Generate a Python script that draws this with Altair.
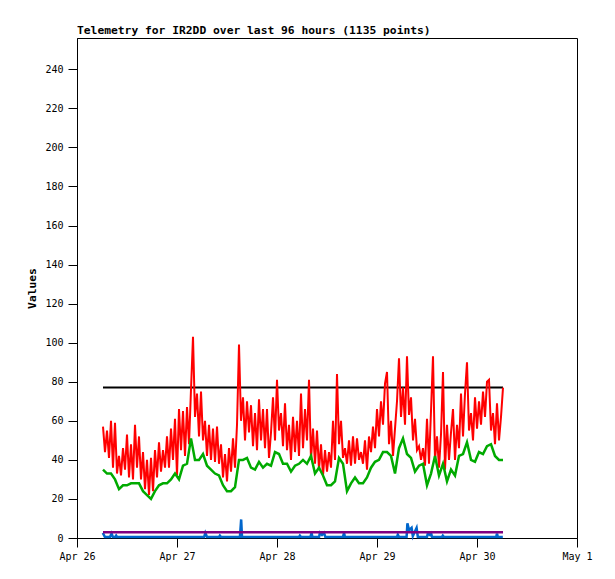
import altair as alt
import pandas as pd

TITLE = "Telemetry for IR2DD over last 96 hours (1135 points)"
x_tick_hours = [0, 24, 48, 72, 96, 120]
x_labels = ["Apr 26", "Apr 27", "Apr 28", "Apr 29", "Apr 30", "May 1"]
y_ticks = [0, 20, 40, 60, 80, 100, 120, 140, 160, 180, 200, 220, 240]

START_H = 6.24       # hours after Apr 26 00:00 of the first sample
SPAN_H = 96.0
RED_STEP_H = 0.48
GREEN_STEP_H = 0.96

red_vals = [
    57, 44, 55, 41, 60, 36, 59, 33, 42, 32, 46, 35, 53, 31, 48, 30, 58, 36, 52, 30,
    44, 25, 40, 22, 41, 24, 45, 31, 49, 34, 45, 36, 52, 36, 56, 40, 61, 32, 66, 45,
    65, 42, 67, 48, 76, 103, 62, 74, 52, 75, 50, 60, 42, 58, 40, 56, 39, 57, 38, 48,
    31, 43, 29, 46, 34, 51, 36, 58, 99, 60, 72, 50, 70, 54, 68, 47, 64, 45, 71, 50, 66,
    46, 66, 41, 54, 72, 50, 81, 55, 64, 47, 69, 45, 58, 40, 62, 44, 60, 42, 74, 46,
    66, 50, 81, 40, 56, 38, 55, 35, 48, 32, 45, 34, 44, 36, 60, 40, 84, 48, 60, 41, 46,
    38, 50, 37, 52, 38, 51, 40, 44, 38, 50, 35, 52, 44, 57, 46, 66, 52, 70, 58, 79,
    85, 48, 60, 42, 56, 70, 92, 62, 77, 58, 93, 63, 72, 50, 61, 45, 47, 40, 46, 37, 61,
    38, 65, 93, 40, 52, 36, 53, 85, 35, 58, 40, 54, 66, 40, 58, 46, 74, 52, 74, 90,
    55, 64, 50, 72, 56, 70, 58, 75, 62, 80, 81, 55, 64, 48, 69, 50, 62, 77,
]

green_vals = [
    35, 33, 33, 30, 25, 27, 27, 28, 28, 28,
    24, 22, 20, 24, 27, 28, 28, 30, 33, 30,
    37, 38, 51, 40, 40, 43, 37, 35, 33, 32,
    27, 24, 24, 26, 40, 40, 41, 36, 35, 39,
    36, 38, 37, 44, 43, 38, 38, 34, 37, 38,
    40, 38, 42, 33, 36, 32, 27, 27, 29, 41,
    38, 24, 28, 31, 28, 28, 31, 36, 39, 40,
    44, 44, 42, 33, 46, 51, 43, 41, 34, 37,
    38, 27, 33, 42, 32, 38, 29, 35, 32, 42,
    43, 49, 40, 39, 44, 43, 47, 48, 42, 40,
    40,
]

blue_hours = [
    6.2, 6.7, 7.9, 8.3, 8.6, 9.2, 9.4, 9.6,
    30.5, 30.8, 31.2, 34.1, 34.3, 34.6, 39.1, 39.4, 39.6,
    53.3, 53.5, 53.8, 56.0, 56.3, 56.5,
    58.1, 58.3, 58.8, 59.3, 59.6, 63.8, 64.1, 64.3,
    76.8, 77.0, 77.3, 79.1, 79.3, 79.7, 80.3, 80.6, 81.5, 81.8,
    84.0, 84.2, 84.7, 85.0, 85.2, 87.6, 87.8, 88.1,
    100.6, 100.8, 101.0, 102.2,
]
blue_vals = [
    2.6, 0.5, 0.5, 2.3, 0.5, 0.5, 1.2, 0.5,
    0.5, 2.6, 0.5, 0.5, 1.2, 0.5, 0.5, 9.5, 0.5,
    0.5, 1.2, 0.5, 0.5, 2.6, 0.5,
    0.5, 2.6, 1.5, 2.6, 0.5, 0.5, 2.6, 0.5,
    0.5, 1.7, 0.5, 0.5, 7.5, 4.0, 5.2, 1.0, 5.2, 0.5,
    0.5, 2.3, 1.5, 2.3, 0.5, 0.5, 1.2, 0.5,
    0.5, 2.3, 0.5, 0.5,
]

black_level = 77
purple_level = 3

END_H = START_H + SPAN_H

red_df = pd.DataFrame({"h": [START_H + i * RED_STEP_H for i in range(len(red_vals))], "v": red_vals})
green_df = pd.DataFrame({"h": [START_H + i * GREEN_STEP_H for i in range(len(green_vals))], "v": green_vals})
blue_df = pd.DataFrame({"h": blue_hours, "v": blue_vals})
black_df = pd.DataFrame({"h": [START_H, END_H], "v": [black_level, black_level]})
purple_df = pd.DataFrame({"h": [START_H, END_H], "v": [purple_level, purple_level]})

FONT = "DejaVu Sans Mono"
label_expr = "[" + ",".join("'" + s + "'" for s in x_labels) + "][round(datum.value/24)]"

x_enc = alt.X(
    "h:Q",
    scale=alt.Scale(domain=[x_tick_hours[0], x_tick_hours[-1]], nice=False, zero=False),
    axis=alt.Axis(values=x_tick_hours, labelExpr=label_expr, title=None, grid=False,
                  tickSize=9, labelPadding=4, labelFlush=False),
)
y_enc = alt.Y(
    "v:Q",
    scale=alt.Scale(domain=[0, 256], nice=False),
    axis=alt.Axis(values=y_ticks, title="Values", grid=False, tickSize=9, labelPadding=5,
                  titleX=-45, titleY=250, titleAngle=270, titleAlign="center",
                  titleBaseline="middle"),
)


def layer(df, color, width):
    return alt.Chart(df).mark_line(color=color, strokeWidth=width).encode(x=x_enc, y=y_enc)


chart = alt.layer(
    layer(black_df, "#000000", 2),
    layer(red_df, "#ff0000", 2),
    layer(green_df, "#00aa00", 2.5),
    layer(blue_df, "#0066cc", 2.5),
    layer(purple_df, "#800080", 2.5),
).properties(
    width=500,
    height=500,
    title=alt.TitleParams(TITLE, anchor="start", frame="group", font=FONT, fontSize=11.3,
                          fontWeight="bold", color="black", offset=2),
    autosize=alt.AutoSizeParams(type="none"),
    padding={"left": 69, "top": 30, "right": 22, "bottom": 33},
).configure_view(
    stroke="black", strokeWidth=1
).configure_axis(
    domainColor="black", tickColor="black", labelColor="black", titleColor="black",
    labelFont=FONT, labelFontSize=10, titleFont=FONT, titleFontSize=11.3,
    titleFontWeight="bold", domainWidth=1, tickWidth=1,
)

chart.save("out.html", embed_options={"renderer": "svg", "actions": False})
